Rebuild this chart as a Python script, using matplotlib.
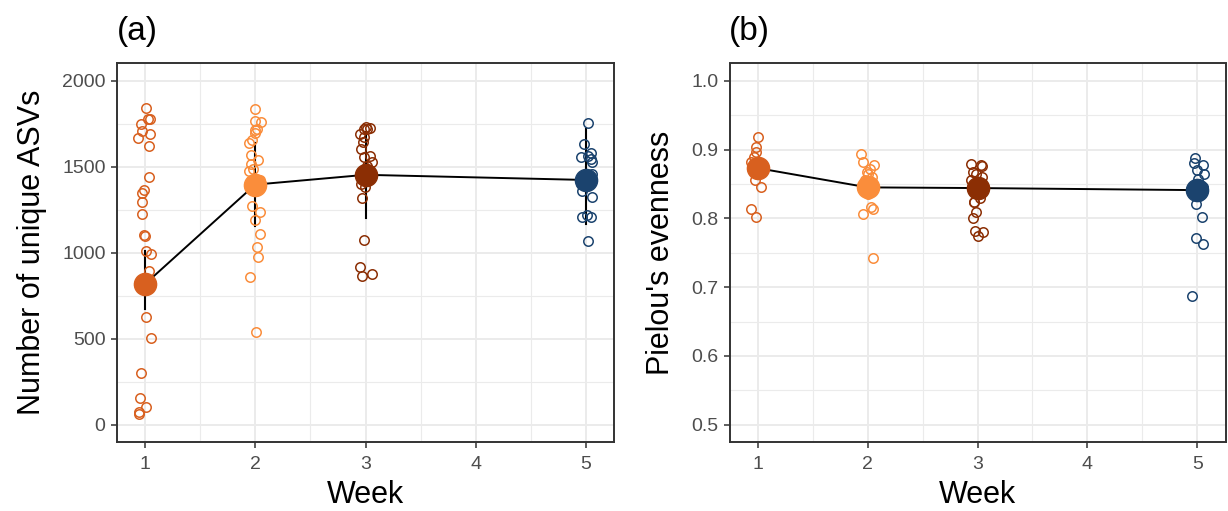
import numpy as np
import matplotlib
matplotlib.use("Agg")
import matplotlib.pyplot as plt

plt.rcParams['font.family'] = ['Liberation Sans', 'DejaVu Sans']

weeks = [1, 2, 3, 5]
week_colors = ["#D8601F", "#FA8D3B", "#8B2E04", "#1B436E"]

# Number of unique ASVs, individual samples per week
asv_w1 = [1842, 1779, 1775, 1750, 1705, 1692, 1667, 1620, 1439, 1365, 1346, 1297, 1223,
          1103, 1095, 1009, 990, 894, 624, 506, 300, 154, 103, 76, 64]
asv_w2 = [1838, 1766, 1760, 1721, 1711, 1696, 1657, 1638, 1569, 1540, 1517, 1488, 1474,
          1420, 1380, 1274, 1235, 1192, 1107, 1034, 978, 859, 538]
asv_w3 = [1731, 1728, 1721, 1717, 1692, 1673, 1643, 1604, 1565, 1556, 1526, 1507, 1470,
          1440, 1420, 1400, 1381, 1317, 1075, 920, 875, 862]
asv_w5 = [1756, 1634, 1579, 1565, 1556, 1546, 1526, 1460, 1430, 1400, 1361, 1322, 1219,
          1210, 1210, 1069]
asv_mean = [817, 1396, 1453, 1423]
asv_lo = [671, 1155, 1202, 1167]
asv_hi = [1011, 1637, 1704, 1721]

# Pielou's evenness, individual samples per week
even_w1 = [0.918, 0.903, 0.896, 0.889, 0.882, 0.876, 0.870, 0.866, 0.856, 0.845, 0.813, 0.802]
even_w2 = [0.893, 0.882, 0.877, 0.872, 0.868, 0.865, 0.860, 0.855, 0.850, 0.845, 0.840,
           0.835, 0.817, 0.813, 0.807, 0.742]
even_w3 = [0.879, 0.877, 0.876, 0.867, 0.865, 0.860, 0.855, 0.850, 0.844, 0.838, 0.830,
           0.824, 0.824, 0.809, 0.801, 0.782, 0.780, 0.774]
even_w5 = [0.888, 0.880, 0.877, 0.870, 0.865, 0.857, 0.850, 0.845, 0.838, 0.832, 0.821,
           0.802, 0.771, 0.763, 0.687]
even_mean = [0.873, 0.845, 0.844, 0.841]
even_lo = [0.862, 0.835, 0.834, 0.830]
even_hi = [0.884, 0.855, 0.854, 0.852]

W, H = 1228, 511
fig = plt.figure(figsize=(W / 100, H / 100), dpi=100)
ax1 = fig.add_axes([116.7 / W, 69 / H, 497.6 / W, 378.5 / H])
ax2 = fig.add_axes([729.5 / W, 69 / H, 496 / W, 378.5 / H])

rng = np.random.default_rng(7)


def draw_panel(ax, samples, means, lo, hi, ylim, yticks, yminor, ylabel, fmt):
    ax.plot(weeks, means, color="black", lw=1.4, zorder=3)
    for i, wk in enumerate(weeks):
        ax.plot([wk, wk], [lo[i], hi[i]], color="black", lw=1.5, zorder=3)
        ax.plot(wk, means[i], "o", ms=16, color=week_colors[i], mec=week_colors[i], zorder=4)
        vals = np.asarray(samples[i])
        xs = wk + rng.uniform(-0.06, 0.06, len(vals))
        ax.plot(xs, vals, "o", ms=6.8, mfc="none", mec=week_colors[i], mew=1.1, zorder=5)
    ax.set_xlim(0.745, 5.255)
    ax.set_ylim(*ylim)
    ax.set_xticks([1, 2, 3, 4, 5])
    ax.set_xticks([1.5, 2.5, 3.5, 4.5], minor=True)
    ax.set_yticks(yticks)
    ax.set_yticklabels([fmt(v) for v in yticks])
    ax.set_yticks(yminor, minor=True)
    ax.grid(which="major", color="#EBEBEB", lw=1.4)
    ax.grid(which="minor", color="#EBEBEB", lw=0.8)
    ax.set_axisbelow(True)
    ax.tick_params(which="major", length=4.5, width=1.1, color="#333333",
                   labelcolor="#4D4D4D", labelsize=14)
    ax.tick_params(axis="x", which="major", pad=5.5)
    ax.tick_params(axis="y", which="major", pad=3.5)
    ax.tick_params(which="minor", length=0)
    for s in ax.spines.values():
        s.set_color("#333333")
        s.set_linewidth(1.4)
    ax.set_xlabel("Week", fontsize=22, labelpad=5)
    ax.set_ylabel(ylabel, fontsize=22, labelpad=11)


draw_panel(ax1, [asv_w1, asv_w2, asv_w3, asv_w5], asv_mean, asv_lo, asv_hi,
           (-100, 2100), [0, 500, 1000, 1500, 2000], [250, 750, 1250, 1750],
           "Number of unique ASVs", lambda v: f"{v:d}")
draw_panel(ax2, [even_w1, even_w2, even_w3, even_w5], even_mean, even_lo, even_hi,
           (0.475, 1.025), [0.5, 0.6, 0.7, 0.8, 0.9, 1.0], [0.55, 0.65, 0.75, 0.85, 0.95],
           "Pielou's evenness", lambda v: f"{v:.1f}")

fig.text(117 / W, 1 - 31 / H, "(a)", fontsize=24, va="center", ha="left")
fig.text(729 / W, 1 - 31 / H, "(b)", fontsize=24, va="center", ha="left")

fig.savefig("out.png", dpi=100)
